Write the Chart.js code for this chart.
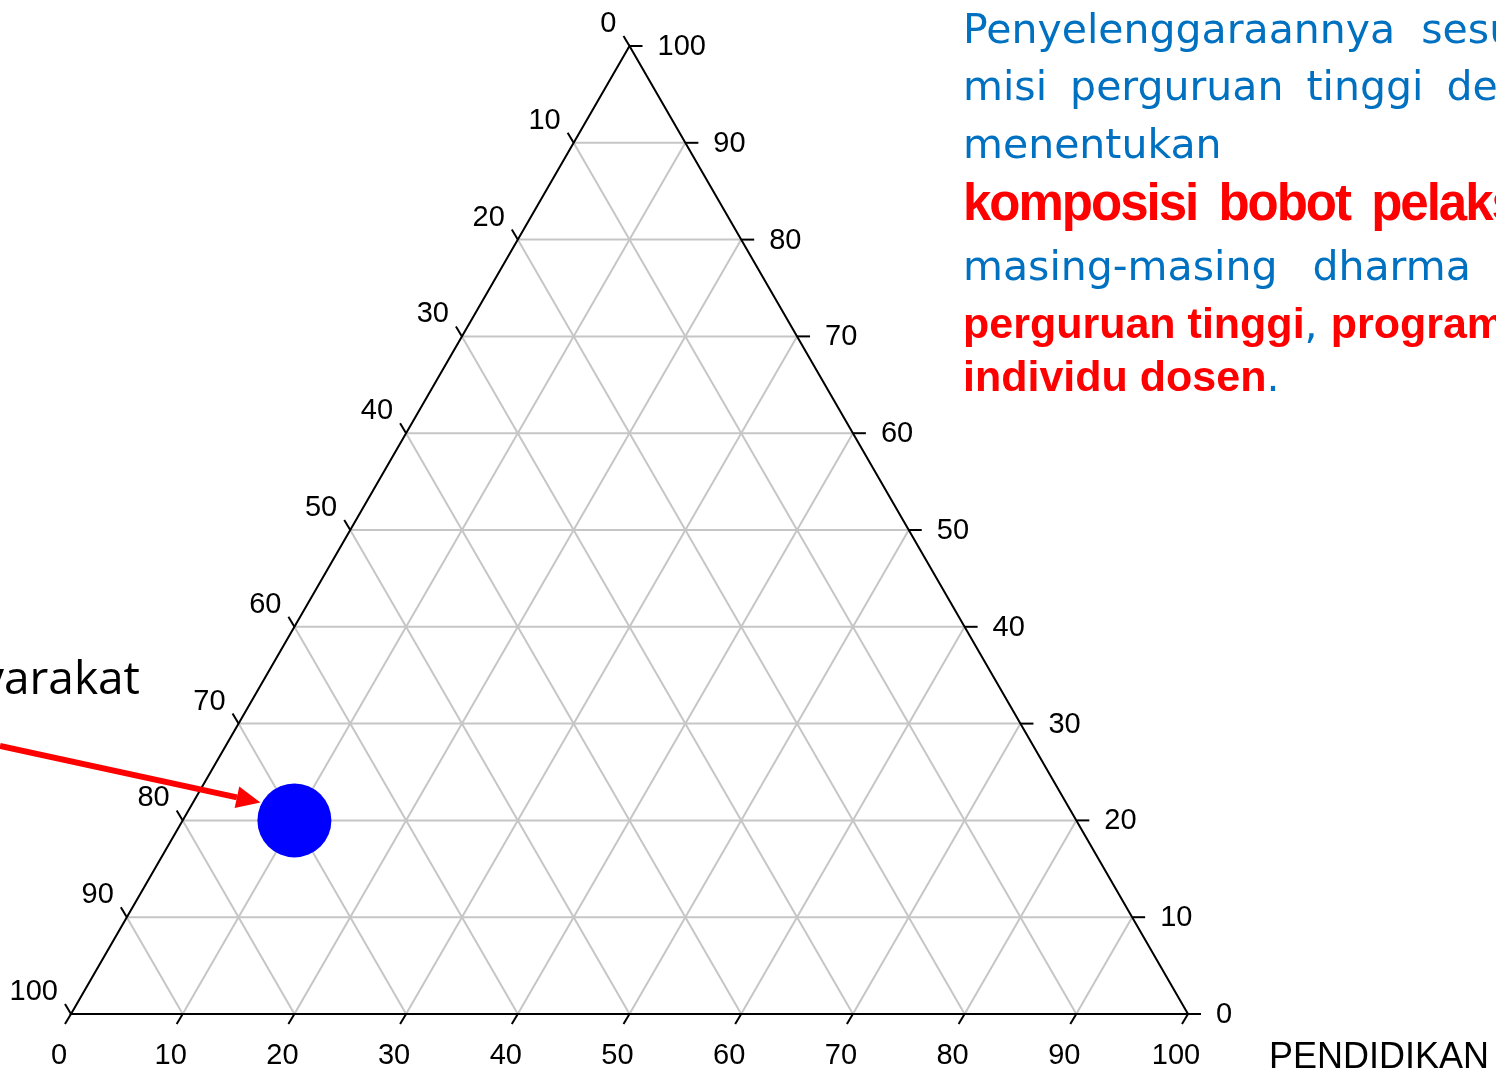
<!DOCTYPE html>
<html>
<head>
<meta charset="utf-8">
<title>Ternary</title>
<script src="https://cdn.jsdelivr.net/npm/chart.js@4/dist/chart.umd.min.js"></script>
<style>
  html, body { margin: 0; padding: 0; background: #fff; overflow: hidden; }
  #wrap { width: 1496px; height: 1079px; }
</style>
</head>
<body>
<div id="wrap"><canvas id="myChart" width="1496" height="1079"></canvas></div>
<script>
(function () {
  'use strict';

  // ternary ticks (percent)
  var tickValues = [0, 10, 20, 30, 40, 50, 60, 70, 80, 90, 100];
  var gridValues = [10, 20, 30, 40, 50, 60, 70, 80, 90];

  // the single composition: bottom axis (PENDIDIKAN), right axis, left axis
  var pointBottom = [10];
  var pointRight = [20];
  var pointLeft = [70];

  var axisTitle = 'PENDIDIKAN';
  var sideLabel = 'Masyarakat';

  var topX = 50; // top vertex in the middle

  /**
   * ternary (bottom, right) -> cartesian data coords
   */
  function toXY(b, r) {
    return { x: b + r * topX / 100, y: r };
  }

  var points = pointBottom.map(function (b, i) {
    return toXY(b, pointRight[i]);
  });

  var textLines = [
    [{ t: 'Penyelenggaraannya sesuai', c: 'blue' }],
    [{ t: 'misi perguruan tinggi dengan', c: 'blue' }],
    [{ t: 'menentukan', c: 'blue' }],
    [{ t: 'komposisi bobot pelaksanaan', c: 'red', big: true }],
    [{ t: 'masing-masing dharma bagi', c: 'blue' }],
    [{ t: 'perguruan tinggi', c: 'red' }, { t: ', ', c: 'blue' }, { t: 'program studi', c: 'red' }],
    [{ t: 'individu dosen', c: 'red' }, { t: '.', c: 'blue' }]
  ];
  var textBaselines = [43, 100, 158, 220, 280, 338, 391];
  // the slide text is justified, so word gaps differ per line
  var wordGaps = [13, 10, 0, 9, 22, 0, 0];

  var ternaryPlugin = {
    id: 'ternary',
    beforeDatasetsDraw: function (chart) {
      var ctx = chart.ctx;
      var sx = chart.scales.x;
      var sy = chart.scales.y;

      function px(b, r) {
        var p = toXY(b, r);
        return { x: sx.getPixelForValue(p.x), y: sy.getPixelForValue(p.y) };
      }

      function line(a, b) {
        ctx.beginPath();
        ctx.moveTo(a.x, a.y);
        ctx.lineTo(b.x, b.y);
        ctx.stroke();
      }

      ctx.save();
      ctx.lineCap = 'butt';

      // grid
      ctx.strokeStyle = '#c6c6c6';
      ctx.lineWidth = 2;
      gridValues.forEach(function (v) {
        line(px(0, v), px(100 - v, v));
        line(px(v, 0), px(v, 100 - v));
        line(px(v, 0), px(0, v));
      });

      // triangle
      ctx.strokeStyle = '#000';
      ctx.lineWidth = 2;
      ctx.beginPath();
      var a = px(0, 0), b = px(100, 0), c = px(0, 100);
      ctx.moveTo(a.x, a.y);
      ctx.lineTo(b.x, b.y);
      ctx.lineTo(c.x, c.y);
      ctx.closePath();
      ctx.stroke();

      // ticks + labels
      ctx.fillStyle = '#000';
      ctx.font = '29px "Liberation Sans", Arial, sans-serif';
      ctx.textBaseline = 'middle';
      tickValues.forEach(function (v) {
        // bottom
        var p = px(v, 0);
        line(p, { x: p.x - 6, y: p.y + 10 });
        ctx.textAlign = 'center';
        ctx.fillText(String(v), p.x - 12, p.y + 42);

        // right
        p = px(100 - v, v);
        line(p, { x: p.x + 13, y: p.y });
        ctx.textAlign = 'left';
        ctx.fillText(String(v), p.x + 28, p.y + 1);

        // left (0 at top, 100 at bottom-left)
        p = px(0, 100 - v);
        line(p, { x: p.x - 6, y: p.y - 10 });
        ctx.textAlign = 'right';
        ctx.fillText(String(v), p.x - 13, p.y - 22);
      });

      ctx.textAlign = 'left';
      ctx.font = '36px "Liberation Sans", Arial, sans-serif';
      ctx.fillText(axisTitle, 1269, 1058);

      ctx.font = '46px "Open Sans", "Noto Sans", sans-serif';
      ctx.textAlign = 'right';
      ctx.textBaseline = 'alphabetic';
      ctx.fillText(sideLabel, 140, 694);
      ctx.restore();
    },
    afterDatasetsDraw: function (chart) {
      var ctx = chart.ctx;
      var sx = chart.scales.x;
      var sy = chart.scales.y;
      ctx.save();

      // arrow pointing at the dot
      var tx = sx.getPixelForValue(points[0].x) - 34;
      var ty = sy.getPixelForValue(points[0].y) - 18;
      var fx = 0, fy = 746;
      var ang = Math.atan2(ty - fy, tx - fx);
      var headLen = 24, headW = 11;
      var bx = tx - headLen * Math.cos(ang), by = ty - headLen * Math.sin(ang);
      ctx.strokeStyle = '#ff0000';
      ctx.fillStyle = '#ff0000';
      ctx.lineWidth = 6;
      ctx.beginPath();
      ctx.moveTo(fx, fy);
      ctx.lineTo(bx, by);
      ctx.stroke();
      ctx.beginPath();
      ctx.moveTo(tx, ty);
      ctx.lineTo(bx + headW * Math.sin(ang), by - headW * Math.cos(ang));
      ctx.lineTo(bx - headW * Math.sin(ang), by + headW * Math.cos(ang));
      ctx.closePath();
      ctx.fill();

      // text block
      ctx.textAlign = 'left';
      ctx.textBaseline = 'alphabetic';
      textLines.forEach(function (parts, i) {
        var x = 963;
        parts.forEach(function (p) {
          if (p.c === 'blue') {
            ctx.font = '41px "DejaVu Sans", sans-serif';
            ctx.fillStyle = '#0070c0';
            ctx.letterSpacing = '0px';
          } else if (p.big) {
            ctx.font = 'bold 51px "Liberation Sans", Arial, sans-serif';
            ctx.fillStyle = '#ff0000';
            ctx.letterSpacing = '-2px';
          } else {
            ctx.font = 'bold 43px "Liberation Sans", Arial, sans-serif';
            ctx.fillStyle = '#ff0000';
            ctx.letterSpacing = '0px';
          }
          ctx.wordSpacing = wordGaps[i] + 'px';
          ctx.fillText(p.t, x, textBaselines[i]);
          x += ctx.measureText(p.t).width;
        });
      });
      ctx.restore();
    }
  };

  var canvas = document.getElementById('myChart');
  var ctx = canvas.getContext('2d');

  var myChart = new Chart(ctx, {
    type: 'scatter',
    data: {
      datasets: [{
        label: 'komposisi',
        data: points,
        pointRadius: 37,
        pointHoverRadius: 37,
        pointBackgroundColor: '#0000ff',
        pointBorderWidth: 0,
        borderWidth: 0
      }]
    },
    options: {
      responsive: false,
      animation: false,
      events: [],
      layout: { padding: { left: 71, right: 308, top: 46, bottom: 65 } },
      plugins: { legend: { display: false }, tooltip: { enabled: false } },
      scales: {
        x: { type: 'linear', min: 0, max: 100, display: false },
        y: { type: 'linear', min: 0, max: 100, display: false }
      }
    },
    plugins: [ternaryPlugin]
  });

})();
</script>
</body>
</html>
